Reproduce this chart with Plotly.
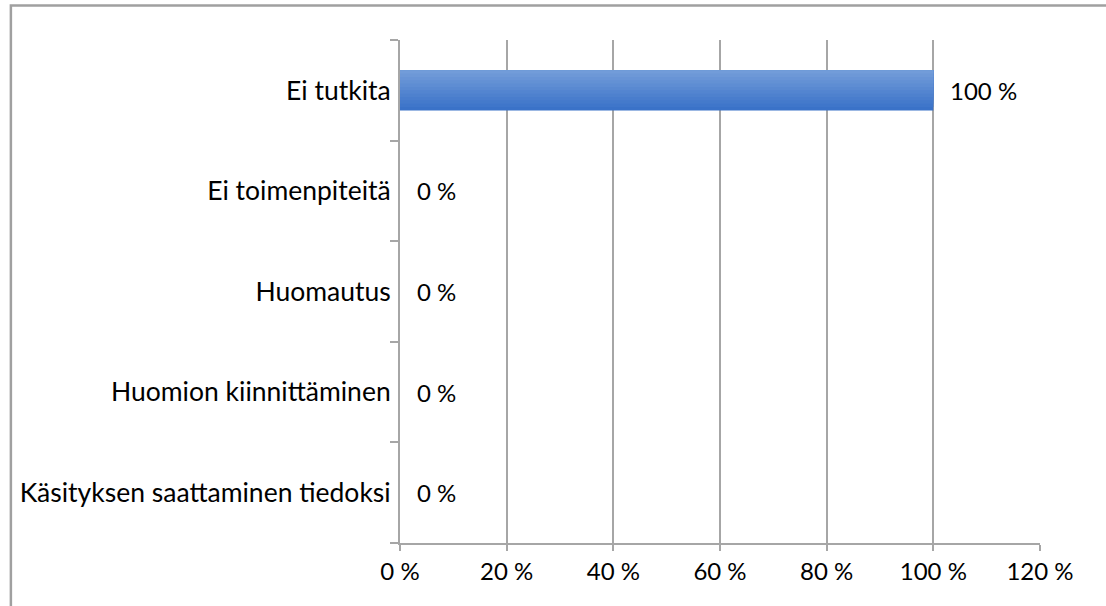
import plotly.graph_objects as go

categories = ["Ei tutkita", "Ei toimenpiteitä", "Huomautus", "Huomion kiinnittäminen", "Käsityksen saattaminen tiedoksi"]
values = [100, 0, 0, 0, 0]
tick_vals = [0, 20, 40, 60, 80, 100, 120]
tick_text = ["0 %", "20 %", "40 %", "60 %", "80 %", "100 %", "120 %"]

FONT = "Lato"
FS = 24
GRID = "#a6a6a6"

# vertical gradient of the bar (bottom -> top)
grad_bottom = (0x3A, 0x72, 0xC8)
grad_top = (0x72, 0x9C, 0xD9)
N = 12
BAR_W = 0.4

fig = go.Figure()
for i in range(N):
    t = i / (N - 1)
    col = tuple(round(grad_bottom[k] + (grad_top[k] - grad_bottom[k]) * t) for k in range(3))
    start = -BAR_W / 2 + i * BAR_W / N
    fig.add_trace(go.Bar(
        y=categories, x=values, orientation="h",
        width=BAR_W / 2 - start, offset=start,
        marker=dict(color="rgb(%d,%d,%d)" % col, line=dict(width=0)),
        hoverinfo="skip",
    ))

for c, v in zip(categories, values):
    fig.add_annotation(x=v, y=c, xref="x", yref="y", text=f"{v} %", showarrow=False,
                       xanchor="left", xshift=15, font=dict(family=FONT, size=FS, color="#000"))

fig.add_shape(type="rect", xref="paper", yref="paper", x0=-0.608, x1=1.3, y0=-0.3, y1=1.0686,
              line=dict(color="#a0a0a0", width=2.5), layer="above")

fig.update_layout(
    width=1106, height=606,
    margin=dict(l=400, r=66, t=40, b=63),
    paper_bgcolor="white", plot_bgcolor="white",
    showlegend=False, barmode="overlay",
    font=dict(family=FONT, size=FS, color="#000"),
    xaxis=dict(range=[0, 120], tickvals=tick_vals, ticktext=tick_text,
               showgrid=True, gridcolor=GRID, gridwidth=2,
               showline=True, linecolor=GRID, linewidth=2,
               ticks="outside", ticklen=6, tickwidth=2, tickcolor=GRID,
               zeroline=False, fixedrange=True),
    yaxis=dict(categoryorder="array", categoryarray=categories[::-1],
               showgrid=False, showline=True, linecolor=GRID, linewidth=2,
               ticks="outside", ticklen=8, tickwidth=2, tickcolor=GRID,
               tickson="boundaries", ticklabelstandoff=2, fixedrange=True,
               tickfont=dict(family=FONT, size=26.5, color="#000")),
)

fig.write_html("out.html", config={"displayModeBar": False},
               post_script="document.body.style.margin='0';document.body.style.overflow='hidden';")
